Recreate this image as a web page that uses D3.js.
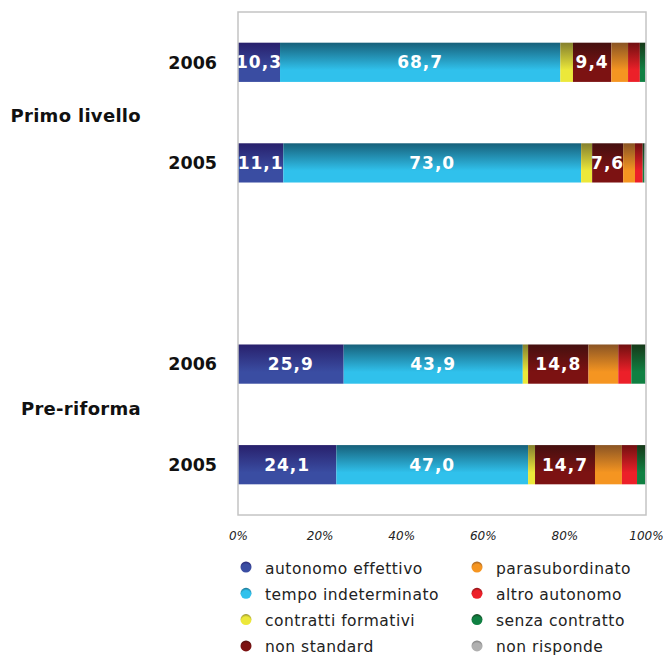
<!DOCTYPE html>
<html>
<head>
<meta charset="utf-8">
<script src="https://cdn.jsdelivr.net/npm/d3@7"></script>
<style>
  html, body { margin: 0; padding: 0; background: #fff; }
  svg { display: block; }
</style>
</head>
<body>
<div id="chart"></div>
<script>
// ---- data ----
const groups = ["Primo livello", "Pre-riforma"];
const years = ["2006", "2005"];
const categories = ["Primo livello 2006", "Primo livello 2005", "Pre-riforma 2006", "Pre-riforma 2005"];
const seriesNames = ["autonomo effettivo", "tempo indeterminato", "contratti formativi", "non standard",
                     "parasubordinato", "altro autonomo", "senza contratto", "non risponde"];
const autonomoEffettivo  = [10.3, 11.1, 25.9, 24.1];
const tempoIndeterminato = [68.7, 73.0, 43.9, 47.0];
const contrattiFormativi = [3.1, 2.7, 1.3, 1.7];
const nonStandard        = [9.4, 7.6, 14.8, 14.7];
const parasubordinato    = [4.1, 2.9, 7.3, 6.6];
const altroAutonomo      = [2.9, 1.9, 3.2, 3.7];
const senzaContratto     = [1.3, 0.4, 3.5, 2.0];
const nonRisponde        = [0.2, 0.4, 0.1, 0.2];
const tickValues = [0, 20, 40, 60, 80, 100];
const labelledSeries = ["autonomo effettivo", "tempo indeterminato", "non standard"];

const seriesValues = [autonomoEffettivo, tempoIndeterminato, contrattiFormativi, nonStandard,
                      parasubordinato, altroAutonomo, senzaContratto, nonRisponde];

// gradient colours: [top, bottom]
const colours = [
  ["#28206c", "#3a4da2"],
  ["#17607a", "#30c1ec"],
  ["#85802e", "#ece83a"],
  ["#45100f", "#7c1212"],
  ["#8a5424", "#f59521"],
  ["#701010", "#ec2029"],
  ["#163818", "#108042"],
  ["#707070", "#b0b0b0"]
];

const W = 663, H = 656;
const svg = d3.select("#chart").append("svg").attr("width", W).attr("height", H);
const defs = svg.append("defs");

colours.forEach((c, i) => {
  const g = defs.append("linearGradient").attr("id", "g" + i)
    .attr("x1", 0).attr("y1", 0).attr("x2", 0).attr("y2", 1);
  g.append("stop").attr("offset", "0").attr("stop-color", c[0]);
  g.append("stop").attr("offset", "0.7").attr("stop-color", c[1]);
  g.append("stop").attr("offset", "1").attr("stop-color", c[1]);
  const r = defs.append("radialGradient").attr("id", "r" + i)
    .attr("cx", "0.5").attr("cy", "0.7").attr("r", "0.75");
  r.append("stop").attr("offset", "0").attr("stop-color", c[1]);
  r.append("stop").attr("offset", "0.6").attr("stop-color", c[1]);
  r.append("stop").attr("offset", "1").attr("stop-color", c[0]);
});

const mLeft = 238, mRight = 646, mTop = 12, mBottom = 515;
const x = d3.scaleLinear().domain([0, 100]).range([mLeft, mRight]);
const bandDomain = [categories[0], categories[1], "gap", categories[2], categories[3]];
const y = d3.scaleBand().domain(bandDomain).range([mTop, mBottom]).paddingInner(0.61).paddingOuter(0.305);

// stacked data
const table = categories.map((c, j) => {
  const row = { cat: c };
  seriesNames.forEach((s, i) => row[s] = seriesValues[i][j]);
  return row;
});
const stack = d3.stack().keys(seriesNames)(table);

const layer = svg.append("g").selectAll("g").data(stack).join("g")
  .attr("fill", (d, i) => "url(#g" + i + ")");
layer.selectAll("rect").data(d => d).join("rect")
  .attr("x", d => x(d[0]))
  .attr("width", d => Math.max(0, x(d[1]) - x(d[0])))
  .attr("y", d => y(d.data.cat))
  .attr("height", y.bandwidth());

// value labels
stack.forEach(s => {
  if (!labelledSeries.includes(s.key)) return;
  svg.append("g").selectAll("text").data(s).join("text")
    .attr("x", d => (x(d[0]) + x(d[1])) / 2)
    .attr("y", d => y(d.data.cat) + y.bandwidth() / 2)
    .attr("dy", "0.36em")
    .attr("text-anchor", "middle")
    .attr("fill", "#fff")
    .style("font-family", "DejaVu Sans, sans-serif")
    .style("font-weight", "bold")
    .style("font-size", "17px")
    .style("letter-spacing", "1px")
    .text(d => d3.format(".1f")(d[1] - d[0]).replace(".", ","));
});

// frame
svg.append("rect").attr("x", mLeft).attr("y", mTop)
  .attr("width", mRight - mLeft).attr("height", mBottom - mTop)
  .attr("fill", "none").attr("stroke", "#c4c4c4").attr("stroke-width", 1.5);

// x axis
const xAxis = d3.axisBottom(x).tickValues(tickValues).tickSize(0).tickPadding(0)
  .tickFormat(d => d + "%");
const ax = svg.append("g").attr("transform", `translate(0,${mBottom + 16})`).call(xAxis);
ax.select(".domain").remove();
ax.selectAll("text").attr("fill", "#222")
  .style("font-family", "DejaVu Sans, sans-serif")
  .style("font-style", "italic")
  .style("font-size", "12px");

// year labels
svg.append("g").selectAll("text").data(categories).join("text")
  .attr("x", 217)
  .attr("y", d => y(d) + y.bandwidth() / 2)
  .attr("dy", "0.36em")
  .attr("text-anchor", "end")
  .attr("fill", "#111")
  .style("font-family", "DejaVu Sans, sans-serif")
  .style("font-weight", "bold")
  .style("font-size", "17.5px")
  .text(d => years.find(yr => d.endsWith(yr)));

// group labels
const groupOffsets = [2.5, -5.5];
svg.append("g").selectAll("text").data(groups).join("text")
  .attr("x", 141)
  .attr("y", (g, i) => {
    const a = y(categories[i * 2]) + y.bandwidth() / 2;
    const b = y(categories[i * 2 + 1]) + y.bandwidth() / 2;
    return (a + b) / 2 + groupOffsets[i];
  })
  .attr("dy", "0.36em")
  .attr("text-anchor", "end")
  .attr("fill", "#111")
  .style("font-family", "DejaVu Sans, sans-serif")
  .style("font-weight", "bold")
  .style("font-size", "18px")
  .style("letter-spacing", "0.3px")
  .text(d => d);

// legend
const legend = svg.append("g");
seriesNames.forEach((s, i) => {
  const col = Math.floor(i / 4), row = i % 4;
  const lx = col === 0 ? 246 : 477;
  const ly = 567 + row * 26.3;
  legend.append("circle").attr("cx", lx).attr("cy", ly).attr("r", 5.5)
    .attr("fill", "url(#r" + i + ")");
  legend.append("text").attr("x", lx + 19).attr("y", ly + 1)
    .attr("dy", "0.36em")
    .attr("fill", "#222")
    .style("font-family", "DejaVu Sans, sans-serif")
    .style("font-size", "15.5px")
    .style("letter-spacing", "0.5px")
    .text(s);
});
</script>
</body>
</html>
